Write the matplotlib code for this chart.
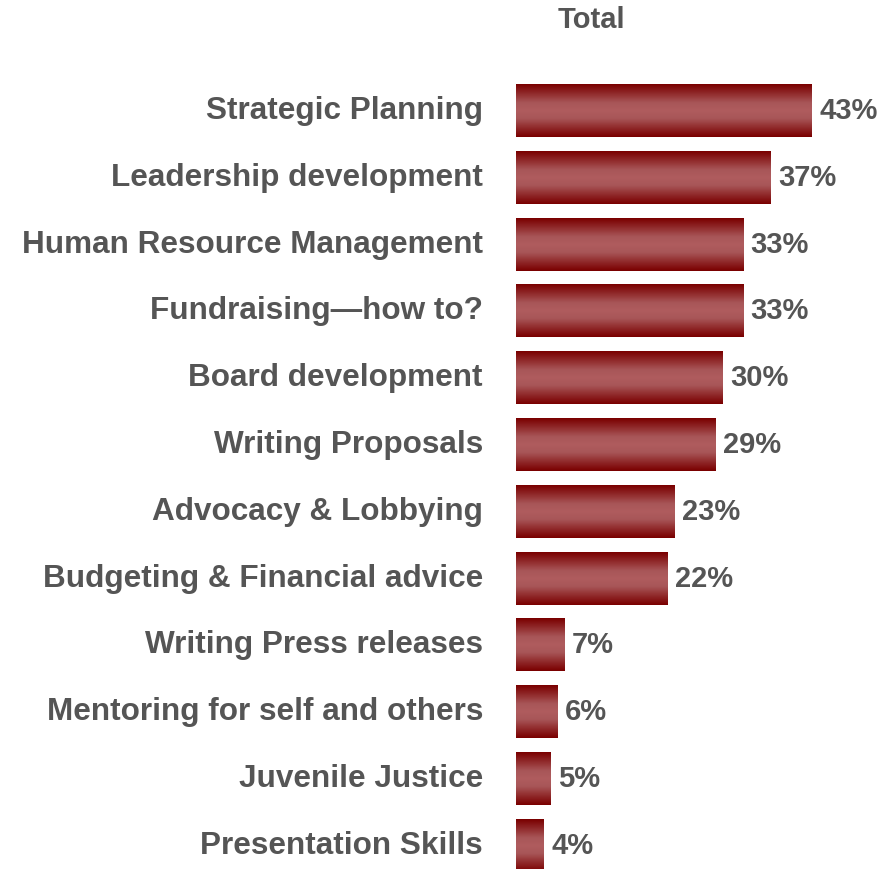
import numpy as np
import matplotlib.pyplot as plt
from matplotlib.colors import LinearSegmentedColormap

plt.rcParams['font.family'] = ['Liberation Sans', 'DejaVu Sans']

# survey results: share of respondents wanting training in each area
topics = ["Strategic Planning", "Leadership development",
          "Human Resource Management", "Fundraising\u2014how to?",
          "Board development", "Writing Proposals",
          "Advocacy & Lobbying", "Budgeting & Financial advice",
          "Writing Press releases", "Mentoring for self and others",
          "Juvenile Justice", "Presentation Skills"]
total = [43, 37, 33, 33, 30, 29, 23, 22, 7, 6, 5, 4]

text_col = "#555555"
bar_h = 0.78

# dark edges, lighter band in the middle of each bar
grad = LinearSegmentedColormap.from_list(
    "bar", [(0.0, "#7a0000"), (0.35, "#a85658"), (0.5, "#b05c5e"),
            (0.65, "#a85658"), (1.0, "#7a0000")])
shade = np.linspace(0, 1, 64).reshape(-1, 1)

fig = plt.figure(figsize=(8.8, 8.69), dpi=100)
ax = fig.add_axes([516 / 880, 0, 364 / 880, 1])
px_per_pct = 6.88

for i, (name, v) in enumerate(zip(topics, total)):
    ax.imshow(shade, cmap=grad, aspect="auto", interpolation="bilinear",
              extent=(0, v, i + bar_h / 2, i - bar_h / 2), zorder=2)
    ax.text(v + 1.1, i, f"{v}%", va="center", ha="left", fontsize=21,
            fontweight="bold", color=text_col)
    ax.text(-33 / px_per_pct, i, name, va="center", ha="right", fontsize=22.7,
            fontweight="bold", color=text_col, clip_on=False)

ax.set_xlim(0, 364 / px_per_pct)
ax.set_ylim(11.347, -1.662)
ax.axis("off")

fig.text(591 / 880, 1 - 20 / 869, "Total", ha="center", va="center",
         fontsize=21, fontweight="bold", color=text_col)

fig.savefig("out.png", dpi=100)
